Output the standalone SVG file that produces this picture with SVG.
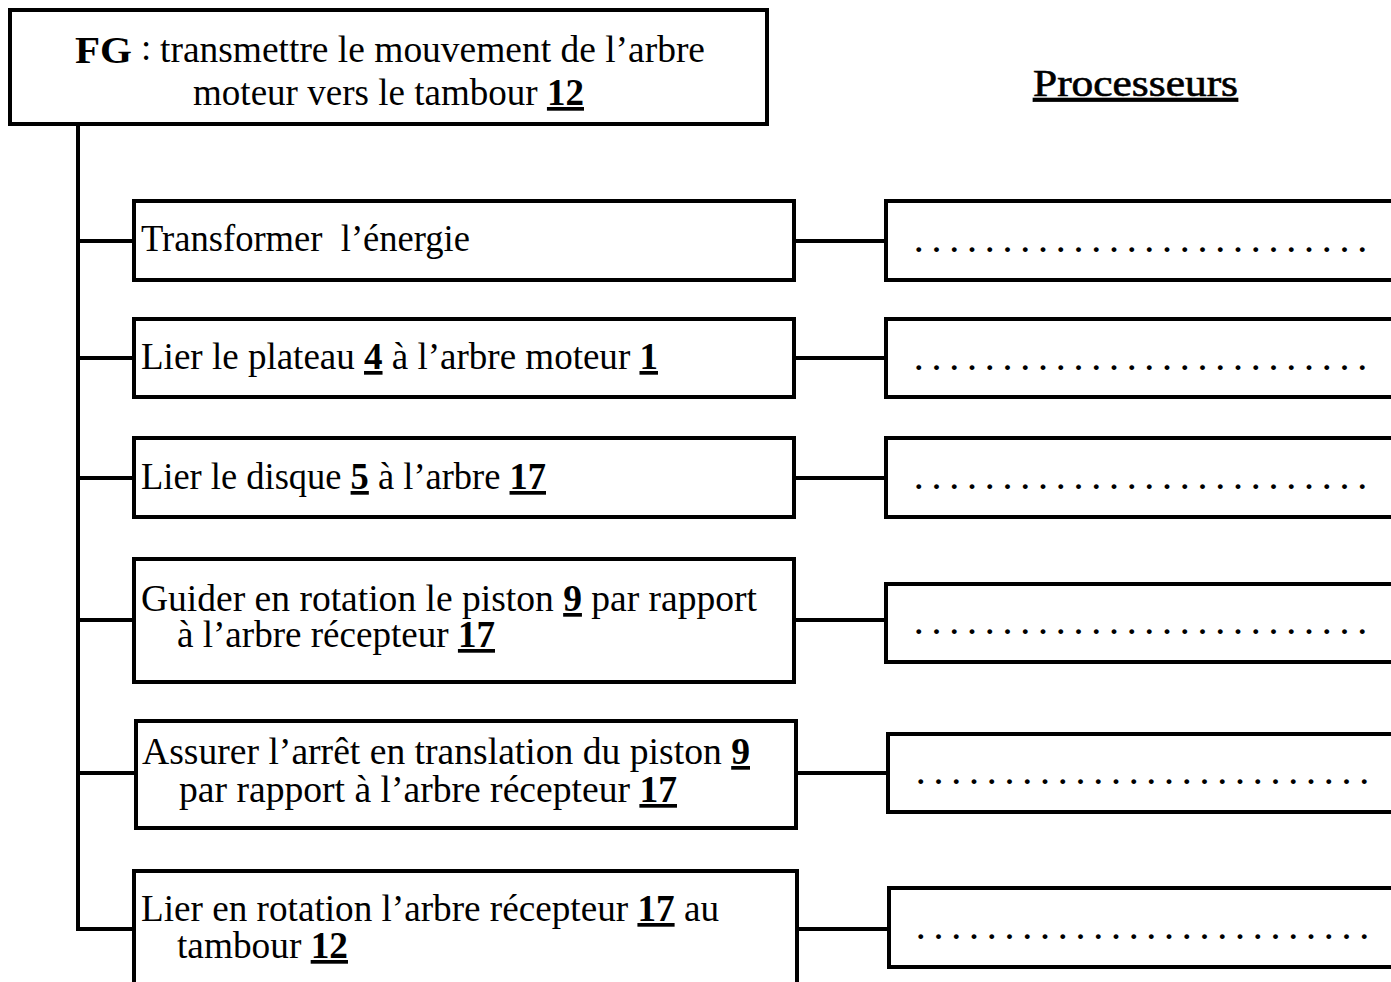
<svg xmlns="http://www.w3.org/2000/svg" width="1391" height="982" viewBox="0 0 1391 982">
<style>
.box{fill:#fff;stroke:#000;stroke-width:4}
.ln{stroke:#000;stroke-width:4;fill:none}
.t{font-family:"Liberation Serif","Times New Roman",serif;font-size:37px;fill:#000;white-space:pre}
.n{font-weight:bold;text-decoration:underline}
.dots{font-family:"Liberation Serif",serif;font-size:30px;font-weight:bold;fill:#000}
</style>
<rect width="1391" height="982" fill="#fff"/>
<g id="connectors">
<path class="ln" d="M78 125 V928"/>
<path class="ln" d="M78 241 H134 M794 241 H886"/>
<path class="ln" d="M78 358 H134 M794 358 H886"/>
<path class="ln" d="M78 478 H134 M794 478 H886"/>
<path class="ln" d="M78 620 H134 M794 620 H886"/>
<path class="ln" d="M78 773 H136 M796 773 H888"/>
<path class="ln" d="M76 929 H134 M797 929 H889"/>
</g>
<g id="fg">
<rect class="box" x="10" y="10" width="757" height="114"/>
<text class="t" x="75" y="63" font-weight="bold" font-size="44" textLength="57" lengthAdjust="spacingAndGlyphs">FG</text>
<text class="t" x="141" y="60" font-size="28">:</text>
<text class="t" x="160" y="62" textLength="545" lengthAdjust="spacingAndGlyphs">transmettre le mouvement de l’arbre</text>
<text class="t" x="193" y="105" textLength="391" lengthAdjust="spacingAndGlyphs">moteur vers le tambour <tspan class="n">12</tspan></text>
</g>
<g id="title">
<text class="t" x="1033" y="96" font-size="39" textLength="205" lengthAdjust="spacingAndGlyphs" text-decoration="underline" stroke="#000" stroke-width="0.6">Processeurs</text>
</g>
<g id="f1">
<rect class="box" x="134" y="201" width="660" height="79"/>
<text class="t" x="141" y="251" textLength="329" lengthAdjust="spacingAndGlyphs">Transformer  l’énergie</text>
</g>
<g id="f2">
<rect class="box" x="134" y="319" width="660" height="78"/>
<text class="t" x="141" y="369" textLength="517" lengthAdjust="spacingAndGlyphs">Lier le plateau <tspan class="n">4</tspan> à l’arbre moteur <tspan class="n">1</tspan></text>
</g>
<g id="f3">
<rect class="box" x="134" y="438" width="660" height="79"/>
<text class="t" x="141" y="489" textLength="405" lengthAdjust="spacingAndGlyphs">Lier le disque <tspan class="n">5</tspan> à l’arbre <tspan class="n">17</tspan></text>
</g>
<g id="f4">
<rect class="box" x="134" y="559" width="660" height="123"/>
<text class="t" x="141" y="611" textLength="616" lengthAdjust="spacingAndGlyphs">Guider en rotation le piston <tspan class="n">9</tspan> par rapport</text>
<text class="t" x="177" y="647" textLength="318" lengthAdjust="spacingAndGlyphs">à l’arbre récepteur <tspan class="n">17</tspan></text>
</g>
<g id="f5">
<rect class="box" x="136" y="721" width="660" height="107"/>
<text class="t" x="142" y="764" textLength="608" lengthAdjust="spacingAndGlyphs">Assurer l’arrêt en translation du piston <tspan class="n">9</tspan></text>
<text class="t" x="179" y="802" textLength="498" lengthAdjust="spacingAndGlyphs">par rapport à l’arbre récepteur <tspan class="n">17</tspan></text>
</g>
<g id="f6">
<rect class="box" x="134" y="871" width="663" height="130"/>
<text class="t" x="141" y="921" textLength="578" lengthAdjust="spacingAndGlyphs">Lier en rotation l’arbre récepteur <tspan class="n">17</tspan> au</text>
<text class="t" x="177" y="958" textLength="171" lengthAdjust="spacingAndGlyphs">tambour <tspan class="n">12</tspan></text>
</g>
<g id="p1">
<rect class="box" x="886" y="201" width="520" height="79"/>
<text class="dots" x="915" y="252" textLength="451" lengthAdjust="spacing">. . . . . . . . . . . . . . . . . . . . . . . . . .</text>
</g>
<g id="p2">
<rect class="box" x="886" y="319" width="520" height="78"/>
<text class="dots" x="915" y="370" textLength="451" lengthAdjust="spacing">. . . . . . . . . . . . . . . . . . . . . . . . . .</text>
</g>
<g id="p3">
<rect class="box" x="886" y="438" width="520" height="79"/>
<text class="dots" x="915" y="489" textLength="451" lengthAdjust="spacing">. . . . . . . . . . . . . . . . . . . . . . . . . .</text>
</g>
<g id="p4">
<rect class="box" x="886" y="584" width="520" height="78"/>
<text class="dots" x="915" y="634" textLength="451" lengthAdjust="spacing">. . . . . . . . . . . . . . . . . . . . . . . . . .</text>
</g>
<g id="p5">
<rect class="box" x="888" y="734" width="520" height="78"/>
<text class="dots" x="917" y="784" textLength="451" lengthAdjust="spacing">. . . . . . . . . . . . . . . . . . . . . . . . . .</text>
</g>
<g id="p6">
<rect class="box" x="889" y="888" width="520" height="79"/>
<text class="dots" x="917" y="939" textLength="451" lengthAdjust="spacing">. . . . . . . . . . . . . . . . . . . . . . . . . .</text>
</g>
</svg>
